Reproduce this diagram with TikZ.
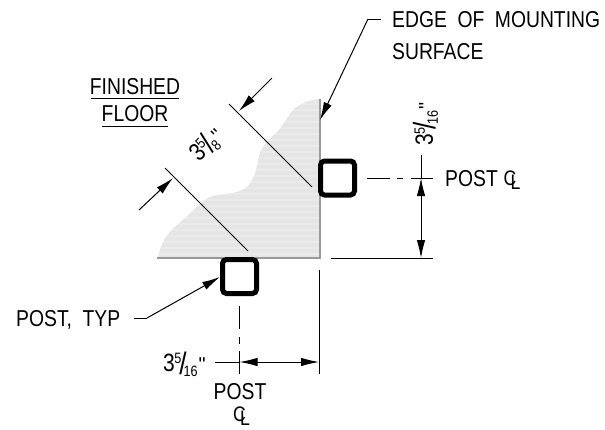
\documentclass[tikz,border=0pt]{standalone}
\usepackage{fontspec}
\setmainfont[FakeStretch=0.84]{Liberation Sans}
\newfontfamily\plainq[Ligatures=TeXOff]{Liberation Sans}
\usetikzlibrary{arrows.meta}
\newcommand{\wsp}{\kern.46em\relax}
\newcommand{\qmark}{{\plainq\fontsize{20}{20}\selectfont\symbol{34}}}
\newcommand{\cl}{{\fontsize{21}{21}\selectfont\rlap{C}\kern.34em\raisebox{-.2em}{L}}}
\newcommand{\frc}[2]{{\fontsize{25}{25}\selectfont 3}\kern-.5pt\raisebox{8pt}{\fontsize{15}{15}\selectfont #1}\kern-2pt{\fontsize{31}{31}\selectfont\raisebox{-2.5pt}{/}}\kern-3pt\raisebox{-5pt}{\fontsize{15}{15}\selectfont #2}}
\tikzset{
  x=1pt,y=-1pt,
  lab/.style={font=\fontsize{23}{23}\selectfont,inner sep=0pt,text depth=0pt},
  post/.style={draw=black,line width=5pt,rounded corners=4pt,minimum size=34pt,inner sep=0pt,fill=white},
  thin line/.style={line width=1pt,black},
  edge line/.style={line width=2.4pt,black!40},
  dim/.style={line width=1pt,-{Latex[length=18pt,width=8.5pt]}},
  dimboth/.style={line width=1pt,{Latex[length=18pt,width=8.5pt]}-{Latex[length=18pt,width=8.5pt]}}
}
\begin{document}
\begin{tikzpicture}
\useasboundingbox (0,0) rectangle (605,429);
% floor area
\def\floorpath{(320,99) .. controls (310,100) and (304,102) .. (298,106)
 .. controls (290,110) and (285,124) .. (277,132)
 .. controls (268,141) and (260,148) .. (258,160)
 .. controls (256,172) and (253,186) .. (240,191)
 .. controls (228,195) and (220,193) .. (210,197)
 .. controls (200,202) and (192,212) .. (183,220)
 .. controls (170,230) and (161,240) .. (158,258)
 -- (320,258) -- cycle}
\fill[black!10] \floorpath;
\begin{scope}
\clip \floorpath;
\foreach \yy in {104,110,...,258} \draw[white,opacity=.2,line width=1.2pt] (150,\yy) -- (322,\yy);
\end{scope}
\draw[edge line] (320,99) -- (320,259);
\draw[edge line] (157,258) -- (321,258);
% posts
\node[post] (p1) at (337.5,178) {};
\node[post] (p2) at (239.5,276.5) {};
% diagonal dimension
\coordinate (d1a) at (229,104); \coordinate (d1b) at (312,187);
\coordinate (d2a) at (165,168); \coordinate (d2b) at (248,251);
\draw[thin line] (d1a) -- (d1b);
\draw[thin line] (d2a) -- (d2b);
\coordinate (a1s) at (272,78); \coordinate (a1e) at (239,111);
\coordinate (a2s) at (139,210); \coordinate (a2e) at (173,178);
\draw[dim] (a1s) -- (a1e);
\draw[dim] (a2s) -- (a2e);
\node[lab,rotate=45] (t1) at (205,143) {\frc{5}{8}\kern.05em\qmark};
% edge leader
\node[lab,anchor=west] (edge1) at (392,19) {EDGE\wsp OF\wsp MOUNTING};
\node[lab,anchor=west] (edge2) at (392,51) {SURFACE};
\coordinate (eb) at (368,19); \coordinate (es) at (381,19); \coordinate (ee) at (320,120);
\draw[thin line] (es) -- (eb);
\draw[dim] (eb) -- (ee);
% finished floor
\node[lab] (ff1) at (135,86) {FINISHED};
\node[lab] (ff2) at (135,113) {FLOOR};
\draw[thin line] (91,98) -- (179,98);
\draw[thin line] (102,126) -- (168,126);
% right dimension
\coordinate (r0) at (421,155); \coordinate (r1) at (421,178); \coordinate (r2) at (421,258);
\draw[thin line] (r0) -- (r1);
\draw[dimboth] (r1) -- (r2);
\draw[thin line] (331,258) -- (433,258);
\draw[thin line] (367,178) -- (390,178);
\draw[thin line] (397,178) -- (403,178);
\draw[thin line] (411,178) -- (433,178);
\node[lab,anchor=west] (pc1) at (445,178) {POST};
\node[inner sep=0pt] (cl1) at (512,180) {\cl};
\node[lab,rotate=90] (t2) at (423,124) {\frc{5}{16}\kern.05em\qmark};
% post typ leader
\node[lab,anchor=west] (typ) at (16,318) {POST,\wsp TYP};
\coordinate (tb) at (147,318); \coordinate (ts) at (134,318);
\draw[thin line] (ts) -- (tb);
\draw[dim] (tb) -- (220,277);
% bottom dimension
\draw[thin line] (239.5,306) -- (239.5,329);
\draw[thin line] (239.5,337) -- (239.5,344);
\draw[thin line] (239.5,351) -- (239.5,374);
\draw[thin line] (319,270) -- (319,374);
\coordinate (b0) at (215,362); \coordinate (b1) at (239.5,362); \coordinate (b2) at (319,362);
\draw[thin line] (b0) -- (b1);
\draw[dimboth] (b1) -- (b2);
\node[lab,anchor=east] (t3) at (206,362) {\frc{5}{16}\kern.05em\qmark};
\node[lab] (pc2) at (240,391) {POST};
\node[inner sep=0pt] (cl2) at (241.5,416) {\cl};
\end{tikzpicture}
\end{document}
